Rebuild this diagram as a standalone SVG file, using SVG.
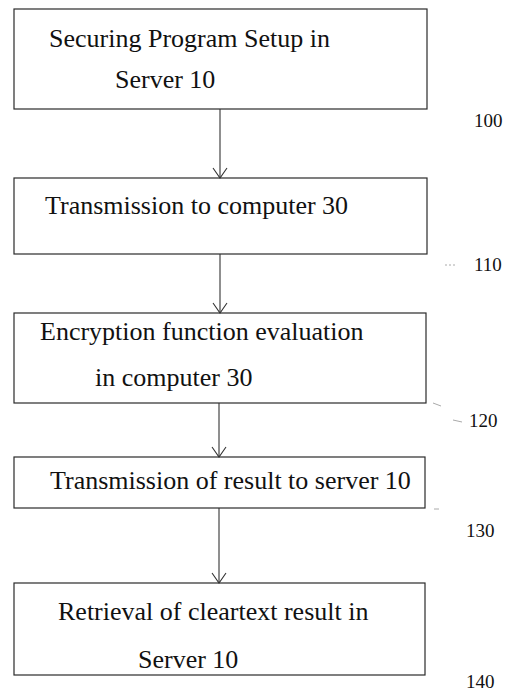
<svg xmlns="http://www.w3.org/2000/svg" width="511" height="693" viewBox="0 0 511 693">
  <defs>
    <style>
      .box { fill: #ffffff; stroke: #2a2a2a; stroke-width: 1.2; }
      .t { font-family: "Liberation Serif", "DejaVu Serif", "Times New Roman", serif; font-size: 26px; fill: #111; }
      .ref { font-family: "Liberation Serif", "DejaVu Serif", "Times New Roman", serif; font-size: 19px; fill: #111; }
      .wire { stroke: #333; stroke-width: 1.1; fill: none; }
      .lead { stroke: #aaa; stroke-width: 1; fill: none; }
    </style>
    <!-- open V head; drawn along +x so orient="auto" points it down the line -->
    <marker id="vhead" viewBox="0 0 12 16" refX="11" refY="8" markerWidth="12" markerHeight="16" markerUnits="userSpaceOnUse" orient="auto">
      <path d="M1,1 L11,8 L1,15" fill="none" stroke="#333" stroke-width="1.1"/>
    </marker>
  </defs>
  <rect width="511" height="693" fill="#ffffff"/>

  <g id="step100">
    <rect class="box" x="14" y="9" width="413" height="100"/>
    <text class="t" x="49" y="47">Securing Program Setup in</text>
    <text class="t" x="115" y="88">Server 10</text>
    <text class="ref" x="474" y="127">100</text>
  </g>

  <g id="step110">
    <rect class="box" x="14" y="178" width="413" height="76"/>
    <text class="t" x="45" y="214">Transmission to computer 30</text>
    <text class="ref" x="474" y="271">110</text>
    <line class="lead" x1="445" y1="265" x2="456" y2="265" stroke-dasharray="2 2"/>
  </g>

  <g id="step120">
    <rect class="box" x="14" y="313" width="412" height="90"/>
    <text class="t" x="40" y="340">Encryption function evaluation</text>
    <text class="t" x="95" y="386">in computer 30</text>
    <text class="ref" x="469" y="427">120</text>
    <line class="lead" x1="433" y1="403" x2="441" y2="406"/>
    <line class="lead" x1="453" y1="420" x2="462" y2="422"/>
  </g>

  <g id="step130">
    <rect class="box" x="14" y="457" width="411" height="51"/>
    <text class="t" x="50" y="489">Transmission of result to server 10</text>
    <text class="ref" x="466" y="537">130</text>
    <line class="lead" x1="434" y1="509" x2="439" y2="509"/>
  </g>

  <g id="step140">
    <rect class="box" x="14" y="583" width="411" height="92"/>
    <text class="t" x="58" y="620">Retrieval of cleartext result in</text>
    <text class="t" x="138" y="668">Server 10</text>
    <text class="ref" x="466" y="688">140</text>
  </g>

  <g id="connectors">
    <line class="wire" x1="220" y1="109" x2="220" y2="178" marker-end="url(#vhead)"/>
    <line class="wire" x1="220" y1="254" x2="220" y2="313" marker-end="url(#vhead)"/>
    <line class="wire" x1="219" y1="403" x2="219" y2="457" marker-end="url(#vhead)"/>
    <line class="wire" x1="219" y1="508" x2="219" y2="583" marker-end="url(#vhead)"/>
  </g>
</svg>
